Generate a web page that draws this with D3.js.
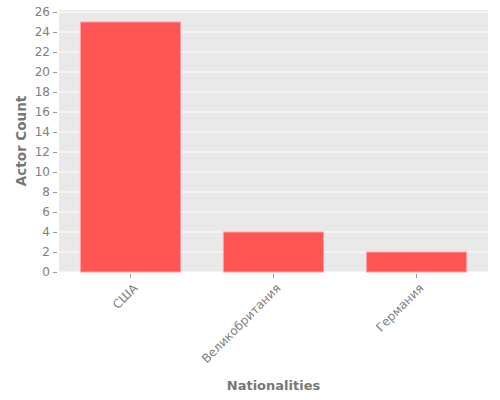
<!DOCTYPE html>
<html>
<head>
<meta charset="utf-8">
<script src="https://cdn.jsdelivr.net/npm/d3@7"></script>
<style>
  body { margin: 0; background: #fff; }
  text { font-family: "DejaVu Sans", sans-serif; }
</style>
</head>
<body>
<script>
// Chart data
var nationalities = ['США', 'Великобритания', 'Германия'];
var actorCounts = [25, 4, 2];
var yTicks = d3.range(0, 27, 2);

// Size parameters
let width = 500;
let height = 400;
let margin = { top: 10, right: 12, bottom: 128, left: 59 };
let plotWidth = width - margin.left - margin.right;
let plotHeight = height - margin.top - margin.bottom;

var svg = d3.select('body')
            .append('svg')
            .attr('width', width)
            .attr('height', height);

var g = svg.append('g').attr('transform', 'translate(' + margin.left + ',' + margin.top + ')');

var x = d3.scaleBand().domain(nationalities).range([0, plotWidth])
          .paddingInner(0.3).paddingOuter(0.15);
var y = d3.scaleLinear().domain([0, 26.2]).range([plotHeight, 0]);

// Background panel
g.append('rect').attr('width', plotWidth).attr('height', plotHeight).attr('fill', '#e9e9e9');

// White grid lines
g.selectAll('.grid').data(yTicks).enter().append('line')
  .attr('x1', 0).attr('x2', plotWidth)
  .attr('y1', d => y(d)).attr('y2', d => y(d))
  .attr('stroke', '#fff').attr('stroke-width', 1);

// Bars
g.selectAll('.bar').data(actorCounts).enter().append('rect')
  .attr('x', (d, i) => x(nationalities[i]))
  .attr('y', d => y(d))
  .attr('width', x.bandwidth())
  .attr('height', d => plotHeight - y(d))
  .attr('fill', '#ff5555')
  .attr('stroke', '#ffa0a0')
  .attr('stroke-width', 1);

// Y axis
var yAxis = g.append('g').attr('transform', 'translate(-2,0)')
  .call(d3.axisLeft(y).tickValues(yTicks).tickSize(4).tickPadding(3));
yAxis.select('.domain').remove();
yAxis.selectAll('line').attr('stroke', '#999');
yAxis.selectAll('text').attr('fill', '#808080').style('font-size', '12px');

// X axis
var xAxis = g.append('g').attr('transform', 'translate(0,' + (plotHeight + 2) + ')')
  .call(d3.axisBottom(x).tickSize(4).tickPadding(4));
xAxis.select('.domain').remove();
xAxis.selectAll('line').attr('stroke', '#999');
xAxis.selectAll('text')
  .attr('fill', '#808080').style('font-size', '12px')
  .attr('text-anchor', 'end')
  .attr('dy', '0.35em')
  .attr('transform', 'translate(5,12) rotate(-45)')
  .attr('x', 0).attr('y', 0);

// Axis titles
svg.append('text')
  .attr('x', margin.left + plotWidth / 2).attr('y', 390)
  .attr('text-anchor', 'middle')
  .attr('fill', '#777').style('font-size', '13px').style('font-weight', 'bold')
  .text('Nationalities');

svg.append('text')
  .attr('transform', 'translate(26,' + (margin.top + plotHeight / 2) + ') rotate(-90)')
  .attr('text-anchor', 'middle')
  .attr('fill', '#777').style('font-size', '13.5px').style('font-weight', 'bold')
  .text('Actor Count');
</script>
</body>
</html>
